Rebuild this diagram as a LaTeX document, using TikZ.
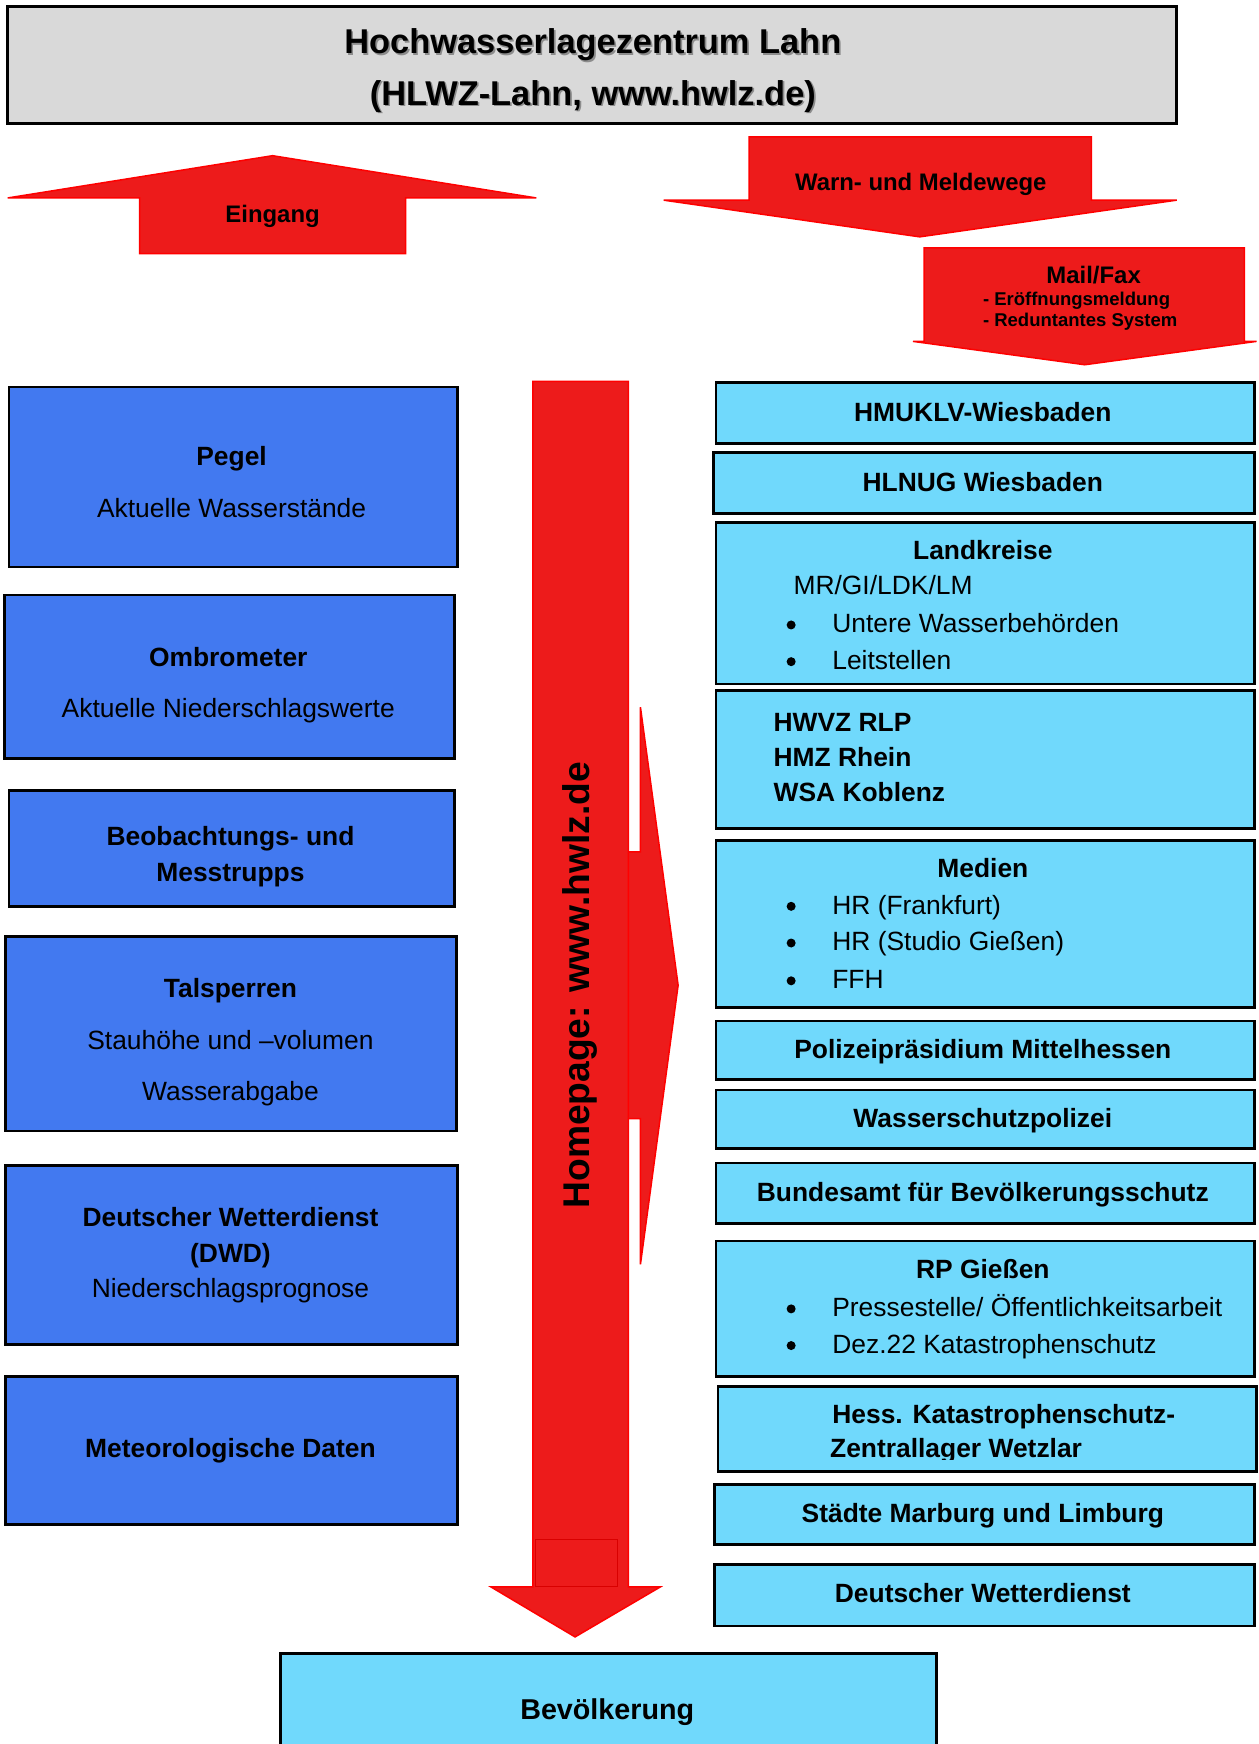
\documentclass[tikz,border=0pt]{standalone}
\usepackage{fontspec}
\setmainfont{Liberation Sans}
\definecolor{hblau}{RGB}{66,121,240}
\definecolor{hcyan}{RGB}{112,217,252}
\definecolor{hrot}{RGB}{237,27,27}
\definecolor{hgrau}{RGB}{217,217,217}
\newcommand{\txtnorm}{\fontsize{26.4}{35.6}\selectfont}
\newcommand{\txtpfeil}{\fontsize{23.9}{30}\selectfont\bfseries}
\newcommand{\txtklein}{\fontsize{18.5}{22}\selectfont\bfseries}
\tikzset{
  linkskasten/.style={draw=black,line width=2.6pt,fill=hblau},
  rechtskasten/.style={draw=black,line width=2.6pt,fill=hcyan},
  pfeilform/.style={draw=red,line width=1.5pt,fill=hrot,line join=miter},
  zeile/.style={inner sep=0pt,anchor=base,font=\txtnorm},
  fett/.style={zeile,font=\txtnorm\bfseries},
  punkt/.style={circle,fill=black,inner sep=0pt,minimum size=9pt},
}
\begin{document}
\begin{tikzpicture}[x=1.108pt,y=-1.112pt]
\useasboundingbox (0,0) rectangle (1135.4,1568.3);

% Kopf
\draw[draw=black,line width=2.6pt,fill=hgrau] (7,6) rectangle (1062,111);
\node[zeile,font=\fontsize{34.4}{40}\selectfont\bfseries,text=black!45] (titelschatten1) at (536.5,49.5) {Hochwasserlagezentrum Lahn};
\node[zeile,font=\fontsize{34.4}{40}\selectfont\bfseries,text=black!45] (titelschatten2) at (536.5,96) {(HLWZ-Lahn, www.hwlz.de)};
\node[zeile,font=\fontsize{34.4}{40}\selectfont\bfseries] (titel1) at (535,48) {Hochwasserlagezentrum Lahn};
\node[zeile,font=\fontsize{34.4}{40}\selectfont\bfseries] (titel2) at (535,94.5) {(HLWZ-Lahn, www.hwlz.de)};

% Blockpfeile oben
\filldraw[pfeilform] (7,178) -- (246,140) -- (484,178) -- (366,178) -- (366,228) -- (126,228) -- (126,178) -- cycle;
\node[zeile,font=\txtpfeil] (eingang) at (246,200.5) {Eingang};

\filldraw[pfeilform] (676,123) -- (985,123) -- (985,180) -- (1062,180) -- (830,213) -- (599,180) -- (676,180) -- cycle;
\node[zeile,font=\txtpfeil] (warn) at (831,171.5) {Warn- und Meldewege};

\filldraw[pfeilform] (834,223) -- (1123,223) -- (1123,307) -- (1134,307) -- (979,328) -- (824,307) -- (834,307) -- cycle;
\node[zeile,font=\txtpfeil] (mailfax) at (987,254.5) {Mail/Fax};
\node[inner sep=0pt,anchor=base west,font=\txtklein] (mail1) at (887,275) {- Eröffnungsmeldung};
\node[inner sep=0pt,anchor=base west,font=\txtklein] (mail2) at (887,294) {- Reduntantes System};

% Mittelpfeile
\filldraw[pfeilform] (481,766) -- (578,766) -- (578,636) -- (612,886) -- (578,1137) -- (578,1006) -- (481,1006) -- cycle;
\filldraw[pfeilform] (481,343) -- (567,343) -- (567,1427) -- (596,1427) -- (519,1472) -- (443,1427) -- (481,1427) -- cycle;
\draw[red!85!black,line width=0.8pt] (483,1384) rectangle (557,1427);
\node[inner sep=0pt,rotate=90,font=\fontsize{37.2}{42}\selectfont\bfseries] (homepage) at (523,886) {Homepage: www.hwlz.de};

% Eingangsdaten links
\draw[linkskasten] (8,348) rectangle (413,510);
\node[fett] (pegel) at (209,419) {Pegel};
\node[zeile] (pegeltxt) at (209,465) {Aktuelle Wasserstände};

\draw[linkskasten] (4,535) rectangle (410,682);
\node[fett] (ombro) at (206,599) {Ombrometer};
\node[zeile] (ombrotxt) at (206,645) {Aktuelle Niederschlagswerte};

\draw[linkskasten] (8,711) rectangle (410,815);
\node[fett] (beob1) at (208,760) {Beobachtungs- und};
\node[fett] (beob2) at (208,793) {Messtrupps};

\draw[linkskasten] (5,842) rectangle (412,1017);
\node[fett] (talsp) at (208,897) {Talsperren};
\node[zeile] (talsp1) at (208,944) {Stauhöhe und –volumen};
\node[zeile] (talsp2) at (208,990) {Wasserabgabe};

\draw[linkskasten] (5,1048) rectangle (413,1209);
\node[fett] (dwd1) at (208,1103) {Deutscher Wetterdienst};
\node[fett] (dwd2) at (208,1135) {(DWD)};
\node[zeile] (dwd3) at (208,1167) {Niederschlagsprognose};

\draw[linkskasten] (5,1238) rectangle (413,1371);
\node[fett] (meteo) at (208,1311) {Meteorologische Daten};

% Empfaenger rechts
\draw[rechtskasten] (646,344) rectangle (1132,399);
\node[fett] (hmuklv) at (887,379) {HMUKLV-Wiesbaden};

\draw[rechtskasten] (644,407) rectangle (1132,462);
\node[fett] (hlnug) at (887,442) {HLNUG Wiesbaden};

\draw[rechtskasten] (646,470) rectangle (1132,615);
\node[fett] (landkr) at (887,503) {Landkreise};
\node[zeile,anchor=base west] (landkrkz) at (716,535) {MR/GI/LDK/LM};
\foreach \txt/\yy in {{Untere Wasserbehörden}/569,{Leitstellen}/602}{
  \node[punkt] (lkpunkt\yy) at (714,\yy-7) {};
  \node[zeile,anchor=base west] (lk\yy) at (751,\yy) {\txt};
}

\draw[rechtskasten] (646,621) rectangle (1132,745);
\node[fett,anchor=base west] (hwvz) at (698,658) {HWVZ RLP};
\node[fett,anchor=base west] (hmz) at (698,689) {HMZ Rhein};
\node[fett,anchor=base west] (wsa) at (698,721) {WSA Koblenz};

\draw[rechtskasten] (646,756) rectangle (1132,906);
\node[fett] (medien) at (887,789) {Medien};
\foreach \txt/\yy in {{HR (Frankfurt)}/822,{HR (Studio Gießen)}/855,{FFH}/889}{
  \node[punkt] (mdpunkt\yy) at (714,\yy-7) {};
  \node[zeile,anchor=base west] (md\yy) at (751,\yy) {\txt};
}

\draw[rechtskasten] (646,918) rectangle (1132,971);
\node[fett] (polizei) at (887,952) {Polizeipräsidium Mittelhessen};

\draw[rechtskasten] (646,980) rectangle (1132,1033);
\node[fett] (wsp) at (887,1014) {Wasserschutzpolizei};

\draw[rechtskasten] (646,1046) rectangle (1132,1100);
\node[fett] (bbk) at (887,1080) {Bundesamt für Bevölkerungsschutz};

\draw[rechtskasten] (646,1116) rectangle (1132,1238);
\node[fett] (rpgi) at (887,1150) {RP Gießen};
\foreach \txt/\yy in {{Pressestelle/ Öffentlichkeitsarbeit}/1184,{Dez.22 Katastrophenschutz}/1217}{
  \node[punkt] (rppunkt\yy) at (714,\yy-7) {};
  \node[zeile,anchor=base west] (rp\yy) at (751,\yy) {\txt};
}

\fill[hcyan] (648,1247) rectangle (1134,1323);
\begin{scope}
  \clip (648,1247) rectangle (1134,1312.5);
  \node[fett,anchor=base west] (hess1) at (751,1280) {Hess. Katastrophenschutz-};
  \node[fett,anchor=base west] (hess2) at (749,1311) {Zentrallager Wetzlar};
\end{scope}
\draw[draw=black,line width=2.6pt] (648,1247) rectangle (1134,1323);

\draw[rechtskasten] (645,1335) rectangle (1132,1389);
\node[fett] (staedte) at (887,1369) {Städte Marburg und Limburg};

\draw[rechtskasten] (645,1407) rectangle (1132,1462);
\node[fett] (dwdr) at (887,1441) {Deutscher Wetterdienst};

% Bevoelkerung
\draw[rechtskasten] (253,1487) rectangle (845,1590);
\node[zeile,font=\fontsize{28.7}{34}\selectfont\bfseries] (bevoelk) at (548,1546.5) {Bevölkerung};
\end{tikzpicture}
\end{document}
